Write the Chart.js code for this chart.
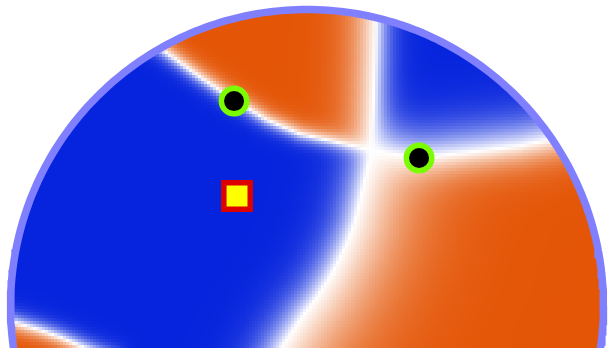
<!DOCTYPE html>
<html>
<head>
<meta charset="utf-8">
<script src="https://cdn.jsdelivr.net/npm/chart.js@4.4.1/dist/chart.umd.min.js"></script>
<style>
  html, body { margin: 0; padding: 0; background: #ffffff; }
  #wrap { width: 608px; height: 348px; }
</style>
</head>
<body>
<div id="wrap"><canvas id="c" width="608" height="348"></canvas></div>
<script>
// Nodal curves of the radiation pattern, in units of the net radius (centre of the net = 0,0)
const nodalA = [[-0.563,0.914],[-0.486,0.863],[-0.361,0.772],[-0.246,0.695],[-0.135,0.627],
                [-0.024,0.580],[0.111,0.550],[0.216,0.526],[0.314,0.509],[0.378,0.503],
                [0.438,0.506],[0.584,0.523],[0.718,0.540],[0.830,0.563],[0.904,0.584]];
const nodalB = [[0.236,1.100],[0.233,0.992],[0.229,0.830],[0.223,0.661],[0.216,0.526],
                [0.199,0.445],[0.179,0.358],[0.159,0.277],[0.132,0.206],[0.101,0.142],
                [0.071,0.088],[0.034,0.030],[-0.010,-0.027],[-0.047,-0.081],[-0.081,-0.132],
                [-0.118,-0.199]];
const nodalC = [[-1.069,-0.027],[-0.992,-0.054],[-0.901,-0.081],[-0.833,-0.105],[-0.756,-0.138],
                [-0.664,-0.175]];

// Station positions and the source marker
const stationX = [-0.246, 0.378];
const stationY = [0.691, 0.499];
const sourceX = [-0.236];
const sourceY = [0.371];

// Lobe colours: positive (compressional) and negative (dilatational)
const posColor = [228, 85, 6];
const negColor = [6, 36, 221];

// Fall-off widths next to each nodal curve [A, B, C], per lobe
const lobeWidths = {
  topMiddle:  [0.035, 0.10, 0.05],
  topRight:   [0.11, 0.06, 0.05],
  left:       [0.03, 0.09, 0.035],
  right:      [0.08, 0.22, 0.05],
  bottomLeft: [0.05, 0.05, 0.035]
};

// Visible window of the net (data units)
const xMin = -1.0354, xMax = 1.0152, yMin = -0.1417, yMax = 1.0320;
const W = 608, H = 348, cellPx = 3;

function signedDist(poly, x, y) {
  let best = Infinity, sgn = 1;
  for (let i = 0; i < poly.length - 1; i++) {
    const ax = poly[i][0], ay = poly[i][1], bx = poly[i+1][0], by = poly[i+1][1];
    const dx = bx - ax, dy = by - ay;
    let t = ((x - ax) * dx + (y - ay) * dy) / (dx * dx + dy * dy);
    t = Math.max(0, Math.min(1, t));
    const px = ax + t * dx, py = ay + t * dy;
    const d = Math.hypot(x - px, y - py);
    if (d < best) {
      best = d;
      sgn = (dx * (y - ay) - dy * (x - ax)) >= 0 ? 1 : -1;
    }
  }
  return sgn * best;
}

function lobeOf(sA, sB, sC) {
  if (sA > 0) return sB < 0 ? 'topMiddle' : 'topRight';
  if (sB > 0) return 'right';
  return sC > 0 ? 'left' : 'bottomLeft';
}

// Field cells on a regular 3-px lattice
const cells = [];
const cellColors = [];
for (let j = 0; j * cellPx < H; j++) {
  const y = yMax - (j * cellPx + cellPx / 2) / H * (yMax - yMin);
  for (let i = 0; i * cellPx < W; i++) {
    const x = xMin + (i * cellPx + cellPx / 2) / W * (xMax - xMin);
    if (x * x + y * y > 0.995 * 0.995) continue;
    const dA = signedDist(nodalA, x, y);
    const dB = signedDist(nodalB, x, y);
    const dC = signedDist(nodalC, x, y);
    const sA = dA >= 0 ? 1 : -1, sB = dB >= 0 ? 1 : -1, sC = dC >= 0 ? 1 : -1;
    const w = lobeWidths[lobeOf(sA, sB, sC)];
    const sign = -sA * sB * sC;
    const amp = Math.tanh(Math.abs(dA) / w[0]) * Math.tanh(Math.abs(dB) / w[1]) * Math.tanh(Math.abs(dC) / w[2]);
    const base = sign > 0 ? posColor : negColor;
    const r = Math.round(255 + (base[0] - 255) * amp);
    const g = Math.round(255 + (base[1] - 255) * amp);
    const b = Math.round(255 + (base[2] - 255) * amp);
    cells.push({ x: x, y: y });
    cellColors.push(`rgb(${r},${g},${b})`);
  }
}

// Rim of the net
const rim = [];
for (let k = 0; k <= 360; k++) {
  const a = k * Math.PI / 180;
  rim.push({ x: Math.cos(a), y: Math.sin(a) });
}

new Chart(document.getElementById('c'), {
  type: 'scatter',
  data: {
    datasets: [
      {
        label: 'field',
        data: cells,
        pointStyle: 'rect',
        pointRadius: cellPx / Math.SQRT2,
        pointBorderWidth: 0,
        borderWidth: 0,
        pointBackgroundColor: cellColors,
        order: 3
      },
      {
        label: 'rim',
        data: rim,
        showLine: true,
        borderColor: 'rgb(128,128,255)',
        borderWidth: 7.5,
        pointRadius: 0,
        fill: false,
        order: 2
      },
      {
        label: 'stations',
        data: stationX.map((v, i) => ({ x: v, y: stationY[i] })),
        pointStyle: 'circle',
        pointRadius: 12.75,
        pointBorderWidth: 5.5,
        pointBackgroundColor: '#000000',
        pointBorderColor: '#7cfc00',
        order: 1
      },
      {
        label: 'source',
        data: sourceX.map((v, i) => ({ x: v, y: sourceY[i] })),
        pointStyle: 'rect',
        pointRadius: 18.7,
        pointBorderWidth: 5.5,
        pointBackgroundColor: '#ffff00',
        pointBorderColor: '#dd0000',
        order: 0
      }
    ]
  },
  options: {
    responsive: false,
    animation: false,
    events: [],
    parsing: false,
    normalized: true,
    layout: { padding: 0, autoPadding: false },
    plugins: { legend: { display: false }, tooltip: { enabled: false } },
    scales: {
      x: { type: 'linear', display: false, min: xMin, max: xMax },
      y: { type: 'linear', display: false, min: yMin, max: yMax }
    }
  }
});
</script>
</body>
</html>
